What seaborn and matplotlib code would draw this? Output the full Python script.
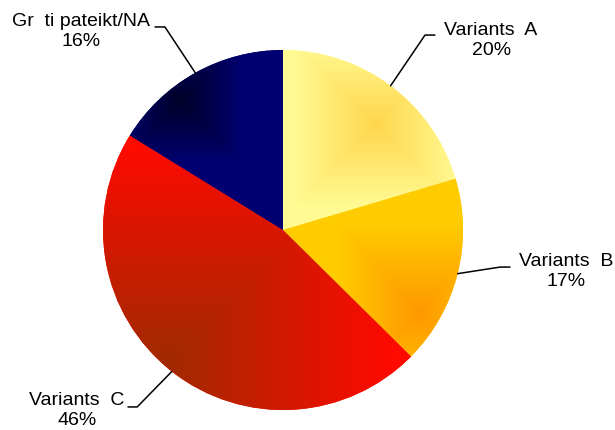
import numpy as np
import seaborn as sns
import matplotlib.pyplot as plt
from matplotlib.colors import to_rgb

labels = ['Variants  A', 'Variants  B', 'Variants  C', 'Gr  ti pateikt/NA']
shares = [20.4, 17.0, 46.4, 16.2]

# gradient per slice: light colour, dark colour, dark spot, spread
light_cols = ['#FFFA92', '#FFCC00', '#FF0A00', '#000072']
dark_cols = ['#FFD64C', '#FF9800', '#A02A00', '#000028']
spots = [(0.52, 0.59), (0.76, -0.46), (-0.64, -0.72), (-0.57, 0.72)]
spreads = [(0.45, 0.45), (0.45, 0.5), (1.25, 1.2), (0.35, 0.35)]

# label text position and elbow of the leader line (data units, r=1)
text_pos = [(1.156, 1.053), (1.572, -0.231), (-1.144, -1.003), (-1.122, 1.103)]
elbows = [(0.789, 1.083), (1.206, -0.206), (-0.81, -0.983), (-0.656, 1.128)]
ends = [(0.844, 1.083), (1.261, -0.206), (-0.861, -0.983), (-0.711, 1.128)]

sns.set_theme(style='white')
plt.rcParams['font.family'] = ['Liberation Sans', 'DejaVu Sans']

fig = plt.figure(figsize=(6.15, 4.3), dpi=100)
ax = fig.add_axes([0, 0, 1, 1])

wedges, _ = ax.pie(shares, startangle=90, counterclock=False,
                   colors=light_cols, wedgeprops=dict(linewidth=0))

xs = np.linspace(-1, 1, 400)
X, Y = np.meshgrid(xs, xs[::-1])
for w, lc, dc, (cx, cy), (sx, sy) in zip(wedges, light_cols, dark_cols, spots, spreads):
    t = np.clip(np.maximum(np.abs(X - cx) / sx, np.abs(Y - cy) / sy), 0, 1)[..., None]
    img = np.array(to_rgb(dc)) + (np.array(to_rgb(lc)) - np.array(to_rgb(dc))) * t
    im = ax.imshow(img, extent=[-1, 1, -1, 1], aspect='auto', interpolation='bilinear', zorder=2)
    im.set_clip_path(w)

total = sum(shares)
for w, lab, val, tp, el, en in zip(wedges, labels, shares, text_pos, elbows, ends):
    mid = np.deg2rad((w.theta1 + w.theta2) / 2)
    start = (np.cos(mid), np.sin(mid))
    ax.plot([start[0], el[0], en[0]], [start[1], el[1], en[1]],
            color='black', lw=1.1, zorder=3)
    ax.text(tp[0], tp[1], f'{lab}\n{round(val / total * 100)}%', ha='center', va='center',
            fontsize=14, linespacing=1.2, color='black')

ax.set_xlim(-283 / 180, 332 / 180)
ax.set_ylim(-200 / 180, 230 / 180)
ax.set_aspect('auto')
ax.axis('off')

fig.savefig('out.png', dpi=100, facecolor='white')
